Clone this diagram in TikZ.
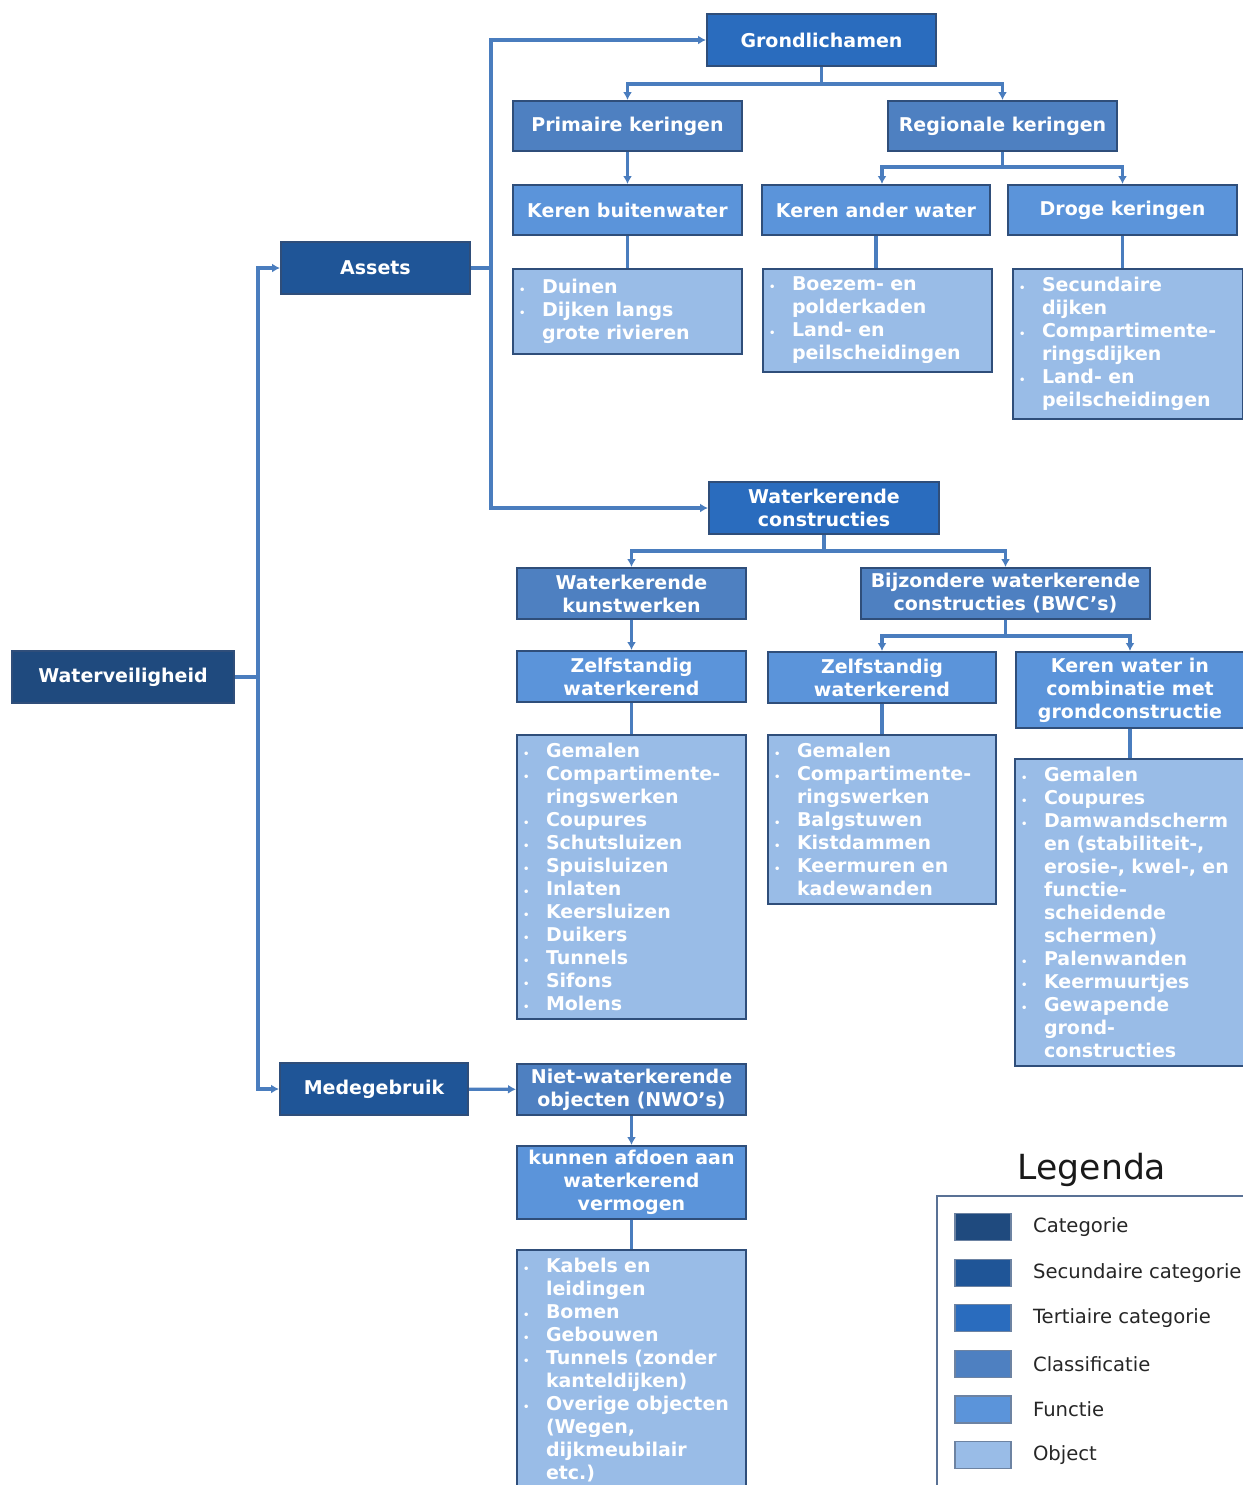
\documentclass[tikz,border=0pt]{standalone}
\usepackage{fontspec}
\setmainfont{DejaVu Sans}
\usetikzlibrary{arrows.meta,calc}
\definecolor{cat}{HTML}{1F4A7E}
\definecolor{seccat}{HTML}{1F5597}
\definecolor{tercat}{HTML}{2A6CBE}
\definecolor{klas}{HTML}{4E80C1}
\definecolor{func}{HTML}{5B94DA}
\definecolor{obj}{HTML}{99BCE7}
\definecolor{edge}{HTML}{2F4E7A}
\definecolor{conn}{HTML}{4A7DBE}
\newcommand{\boxfont}{\fontsize{9.5}{11.5}\selectfont\bfseries}
\newcommand{\itm}{\makebox[11.5pt][l]{\fontsize{5}{5}\selectfont\textbullet}}
\newcommand{\cnt}{\hspace*{11.5pt}}
\tikzset{
  box/.style={draw=edge, line width=1pt, text=white, font=\boxfont, align=center, inner sep=0pt},
  catbox/.style={box, fill=cat},
  secbox/.style={box, fill=seccat},
  terbox/.style={box, fill=tercat},
  klasbox/.style={box, fill=klas},
  funcbox/.style={box, fill=func},
  objbox/.style={draw=edge, line width=1pt, fill=obj, text=white, font=\boxfont,
    align=left, anchor=north, inner xsep=3pt, inner ysep=4pt},
  ln/.style={draw=conn, line width=1.6pt},
  arr/.style={ln, -{Latex[length=4pt,width=4.5pt]}},
  legbox/.style={draw=edge!80, line width=1pt},
  swatch/.style={draw=edge!70, line width=0.6pt, minimum width=28pt, minimum height=13.5pt, inner sep=0pt},
  legtxt/.style={anchor=west, font=\fontsize{9.8}{12}\selectfont, text=black!85},
}
\begin{document}
\begin{tikzpicture}[x=0.5pt,y=-0.5pt]
  \useasboundingbox (0,0) rectangle (1243,1485);
  % categories
  \node[catbox, minimum width=111pt, minimum height=26pt] (wv) at (123,677) {Waterveiligheid};
  \node[secbox, minimum width=94.5pt, minimum height=26pt] (assets) at (375.5,268) {Assets};
  \node[secbox, minimum width=94pt, minimum height=26pt] (mede) at (374,1089) {Medegebruik};
  \node[terbox, minimum width=114.5pt, minimum height=26pt] (grond) at (821.5,40) {Grondlichamen};
  \node[terbox, minimum width=115pt, minimum height=26pt] (wkc) at (824,508) {Waterkerende\\constructies};
  % grondlichamen
  \node[klasbox, minimum width=114.5pt, minimum height=25pt] (prim) at (627.5,126) {Primaire keringen};
  \node[klasbox, minimum width=114.5pt, minimum height=25pt] (reg) at (1002.5,126) {Regionale keringen};
  \node[funcbox, minimum width=114.5pt, minimum height=25pt] (kbw) at (627.5,210) {Keren buitenwater};
  \node[funcbox, minimum width=114pt, minimum height=25pt] (kaw) at (876,210) {Keren ander water};
  \node[funcbox, minimum width=114.5pt, minimum height=25pt] (droog) at (1122.5,210) {Droge keringen};
  \node[objbox, text width=108.5pt, inner ysep=5pt] (duin) at (627.5,268)
    {\itm Duinen\\ \itm Dijken langs\\ \cnt grote rivieren};
  \node[objbox, text width=108.5pt] (boez) at (877.5,268)
    {\itm Boezem- en\\ \cnt polderkaden\\ \itm Land- en\\ \cnt peilscheidingen};
  \node[objbox, text width=109pt] (sec) at (1128,268)
    {\itm Secundaire\\ \cnt dijken\\ \itm Compartimente-\\ \cnt ringsdijken\\ \itm Land- en\\ \cnt peilscheidingen};
  % waterkerende constructies
  \node[klasbox, minimum width=114.5pt, minimum height=25.5pt] (wkk) at (631.5,593.5) {Waterkerende\\kunstwerken};
  \node[klasbox, minimum width=144.5pt, minimum height=25.5pt] (bwc) at (1005.5,593.5) {Bijzondere waterkerende\\constructies (BWC’s)};
  \node[funcbox, minimum width=114.5pt, minimum height=25.5pt] (zw1) at (631.5,676.5) {Zelfstandig\\waterkerend};
  \node[funcbox, minimum width=114pt, minimum height=25.5pt] (zw2) at (882,677.5) {Zelfstandig\\waterkerend};
  \node[funcbox, minimum width=114pt, minimum height=38pt] (kwc) at (1130,690) {Keren water in\\combinatie met\\grondconstructie};
  \node[objbox, text width=108.5pt] (lst1) at (631.5,734)
    {\itm Gemalen\\ \itm Compartimente-\\ \cnt ringswerken\\ \itm Coupures\\ \itm Schutsluizen\\
     \itm Spuisluizen\\ \itm Inlaten\\ \itm Keersluizen\\ \itm Duikers\\ \itm Tunnels\\ \itm Sifons\\ \itm Molens};
  \node[objbox, text width=108pt] (lst2) at (882,734)
    {\itm Gemalen\\ \itm Compartimente-\\ \cnt ringswerken\\ \itm Balgstuwen\\ \itm Kistdammen\\
     \itm Keermuren en\\ \cnt kadewanden};
  \node[objbox, text width=110pt] (lst3) at (1131,758)
    {\itm Gemalen\\ \itm Coupures\\ \itm Damwandscherm\\ \cnt en (stabiliteit-,\\ \cnt erosie-, kwel-, en\\
     \cnt functie-\\ \cnt scheidende\\ \cnt schermen)\\ \itm Palenwanden\\ \itm Keermuurtjes\\
     \itm Gewapende\\ \cnt grond-\\ \cnt constructies};
  % medegebruik
  \node[klasbox, minimum width=114.5pt, minimum height=25.5pt] (nwo) at (631.5,1089.5) {Niet-waterkerende\\objecten (NWO’s)};
  \node[funcbox, minimum width=114.5pt, minimum height=36.5pt] (kun) at (631.5,1182.5) {kunnen afdoen aan\\waterkerend\\vermogen};
  \node[objbox, text width=108.5pt] (lst4) at (631.5,1249)
    {\itm Kabels en\\ \cnt leidingen\\ \itm Bomen\\ \itm Gebouwen\\ \itm Tunnels (zonder\\ \cnt kanteldijken)\\
     \itm Overige objecten\\ \cnt (Wegen,\\ \cnt dijkmeubilair\\ \cnt etc.)};
  % connectors
  \coordinate (t1) at (258,677);
  \coordinate (t2) at (491,268);
  \draw[ln] (wv.east) -- (t1);
  \draw[arr] (t1) |- (assets.west);
  \draw[arr] (t1) |- (mede.west);
  \draw[ln] (assets.east) -- (t2);
  \draw[arr] (t2) |- (grond.west);
  \draw[arr] (t2) |- (wkc.west);
  \draw[arr] (grond.south) -- ++(0,17) -| (prim.north);
  \draw[arr] (grond.south) -- ++(0,17) -| (reg.north);
  \draw[arr] (prim) -- (kbw);
  \draw[arr] (reg.south) -- ++(0,15) -| ($(kaw.north)+(6,0)$);
  \draw[arr] (reg.south) -- ++(0,15) -| (droog.north);
  \draw[ln] (kbw) -- (duin);
  \draw[ln] (kaw.south) -- (kaw.south |- boez.north);
  \draw[ln] (droog.south) -- (droog.south |- sec.north);
  \draw[arr] (wkc.south) -- ++(0,16) -| (wkk.north);
  \draw[arr] (wkc.south) -- ++(0,16) -| (bwc.north);
  \draw[arr] (wkk) -- (zw1);
  \draw[arr] (bwc.south) -- ++(0,16) -| (zw2.north);
  \draw[arr] (bwc.south) -- ++(0,16) -| (kwc.north);
  \draw[ln] (zw1) -- (lst1);
  \draw[ln] (zw2) -- (lst2);
  \draw[ln] (kwc.south) -- (kwc.south |- lst3.north);
  \draw[arr] (mede) -- (nwo);
  \draw[arr] (nwo) -- (kun);
  \draw[ln] (kun) -- (lst4);
  % legenda
  \node[font=\fontsize{17.3}{20}\selectfont, text=black!90] (legt) at (1092,1170) {Legenda};
  \draw[legbox] (937,1196) rectangle (1252,1494);
  \foreach \c/\t [count=\i] in {cat/Categorie, seccat/Secundaire categorie, tercat/Tertiaire categorie,
      klas/Classificatie, func/Functie, obj/Object} {
    \node[swatch, fill=\c] (sw\i) at (983,{1227+(\i-1)*45.6}) {};
    \node[legtxt] (lg\i) at (1026,{1227+(\i-1)*45.6}) {\t};
  }
\end{tikzpicture}
\end{document}
